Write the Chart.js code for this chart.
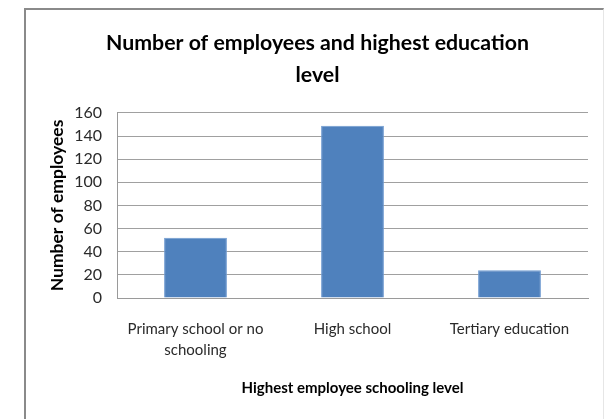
<!DOCTYPE html>
<html>
<head>
<meta charset="utf-8">
<script src="https://cdn.jsdelivr.net/npm/chart.js@4"></script>
<style>
    html, body { margin: 0; padding: 0; background: #fff; }
    #wrap { position: relative; width: 605px; height: 419px; overflow: hidden; }
    #frame {
        position: absolute; left: 24px; top: 8px; width: 577px; height: 420px;
        border-left: 2px solid #8a8a8a; border-top: 2px solid #8a8a8a;
        border-right: 1px solid #e6e6e6;
        pointer-events: none;
    }
    canvas { position: absolute; left: 0; top: 0; }
</style>
</head>
<body>
<div id="wrap">
    <div id="frame"></div>
    <canvas id="chart" width="605" height="419"></canvas>
</div>
<script>
// Данные графика
const categories = [['Primary school or no', 'schooling'], 'High school', 'Tertiary education'];
const employees = [52, 149, 24];
const yTicks = [0, 20, 40, 60, 80, 100, 120, 140, 160];

const chartTitle = ['Number of employees and highest education', 'level'];
const xTitle = 'Highest employee schooling level';
const yTitle = 'Number of employees';

const ctx = document.getElementById('chart').getContext('2d');

new Chart(ctx, {
    type: 'bar',
    data: {
        labels: categories,
        datasets: [{
            data: employees,
            backgroundColor: '#4f81bd',
            borderColor: '#6f9ad0',
            borderWidth: 1,
            barPercentage: 0.4,
            categoryPercentage: 1
        }]
    },
    options: {
        responsive: false,
        animation: false,
        layout: {
            padding: { top: 27, left: 47, right: 17, bottom: 22 }
        },
        plugins: {
            legend: { display: false },
            tooltip: { enabled: false },
            title: {
                display: true,
                text: chartTitle,
                color: '#000',
                font: { family: 'Lato', size: 21.3, weight: 'bold', lineHeight: 1.5 },
                padding: { top: 0, bottom: 22 }
            }
        },
        scales: {
            x: {
                afterFit: function(scale) { scale.height = 99; },
                grid: { display: false, drawTicks: false },
                border: { display: true, color: '#9a9a9a', width: 1 },
                ticks: {
                    color: '#2a2a2a',
                    padding: 21,
                    maxRotation: 0,
                    font: { family: 'Lato', size: 15, lineHeight: 1.4 }
                },
                title: {
                    display: true,
                    text: xTitle,
                    color: '#000',
                    font: { family: 'Lato', size: 15, weight: 'bold', lineHeight: 1.2 },
                    padding: { top: 17, bottom: 0 }
                }
            },
            y: {
                min: 0,
                max: 160,
                afterFit: function(scale) { scale.width = 70; },
                afterBuildTicks: function(scale) {
                    scale.ticks = yTicks.map(v => ({ value: v }));
                },
                grid: { color: '#a0a0a0', lineWidth: 1, drawTicks: false },
                border: { display: true, color: '#9a9a9a', width: 1 },
                ticks: {
                    color: '#2a2a2a',
                    padding: 15,
                    autoSkip: false,
                    font: { family: 'Lato', size: 16 }
                },
                title: {
                    display: true,
                    text: yTitle,
                    color: '#000',
                    font: { family: 'Lato', size: 17.5, weight: 'bold', lineHeight: 1.2 },
                    padding: { top: 0, bottom: 10 }
                }
            }
        }
    }
});
</script>
</body>
</html>
